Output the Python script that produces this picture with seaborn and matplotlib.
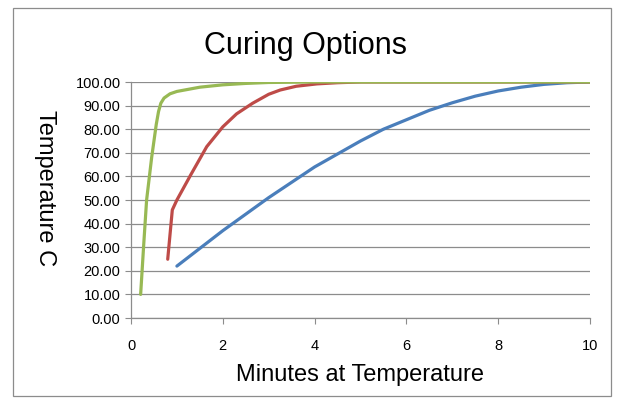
import matplotlib
matplotlib.use("Agg")
import matplotlib.pyplot as plt
from matplotlib.patches import Rectangle
import pandas as pd
import seaborn as sns

# curve values
blue_x = [1.0, 1.5, 2.0, 2.5, 3.0, 3.5, 4.0, 4.5, 5.0, 5.5, 6.0, 6.5, 7.0, 7.5, 8.0, 8.5, 9.0, 9.5, 10.0]
blue_y = [22, 29.5, 37, 44, 51, 57.5, 64, 69.5, 75, 80, 84, 88, 91.2, 94, 96.2, 97.8, 99, 99.7, 100]

red_x = [0.8, 0.9, 1.0, 1.3, 1.65, 2.0, 2.3, 2.65, 3.0, 3.25, 3.6, 4.05, 4.5, 5.0, 6.0, 8.0, 10.0]
red_y = [24.9, 45.8, 50, 60.6, 72.6, 81, 86.5, 91, 94.8, 96.6, 98.2, 99.2, 99.7, 100, 100, 100, 100]

green_x = [0.21, 0.28, 0.34, 0.45, 0.55, 0.6, 0.65, 0.72, 0.85, 1.0, 1.5, 2.0, 2.5, 3.0, 4.0, 6.0, 8.0, 10.0]
green_y = [10, 32, 50, 68, 82, 87.5, 91, 93.2, 95, 96, 97.8, 98.8, 99.4, 99.8, 100, 100, 100, 100]

colors = {"blue": "#4A7EBB", "red": "#BE4B48", "green": "#98B954"}

sns.set_style("white")
plt.rcParams['font.family'] = ['Liberation Sans', 'DejaVu Sans']
plt.rcParams['text.color'] = 'black'
plt.rcParams['axes.labelcolor'] = 'black'
plt.rcParams['xtick.color'] = 'black'
plt.rcParams['ytick.color'] = 'black'

fig = plt.figure(figsize=(6.25, 4.04), dpi=100)
ax = fig.add_axes([131 / 625, 1 - 318 / 404, 459 / 625, 236 / 404])

# outer chart border
fig.patches.append(Rectangle((13 / 625, 1 - 396 / 404), 598 / 625, 388 / 404,
                             transform=fig.transFigure, fill=False,
                             edgecolor="#8c8c8c", linewidth=0.9))

for name, xs, ys in [("blue", blue_x, blue_y), ("red", red_x, red_y), ("green", green_x, green_y)]:
    df = pd.DataFrame({"x": xs, "y": ys})
    sns.lineplot(data=df, x="x", y="y", ax=ax, color=colors[name], linewidth=2.3,
                 sort=False, estimator=None, zorder=3)

ax.set_xlim(0, 10)
ax.set_ylim(0, 100)
ax.set_xticks([0, 2, 4, 6, 8, 10])
ax.set_yticks(range(0, 101, 10))
ax.set_yticklabels([f"{v:.2f}" for v in range(0, 101, 10)])
ax.yaxis.grid(True, color="#8c8c8c", linewidth=0.9)
ax.set_axisbelow(True)
for side in ["top", "right"]:
    ax.spines[side].set_visible(False)
for side in ["left", "bottom"]:
    ax.spines[side].set_color("#8c8c8c")
    ax.spines[side].set_linewidth(0.9)
ax.tick_params(axis="both", which="both", length=4, color="#8c8c8c", labelsize=10.5,
               labelcolor="black", direction="out", left=True, bottom=True)
ax.tick_params(axis="x", pad=11)

ax.set_xlabel("Minutes at Temperature", fontsize=17, labelpad=8)
ax.set_ylabel("")
fig.text(45 / 625, 1 - 188 / 404, "Temperature C", rotation=270, fontsize=17,
         ha="center", va="center")
fig.text(305 / 625, 1 - 46 / 404, "Curing Options", fontsize=22, ha="center", va="center")

fig.savefig("out.png", dpi=100)
